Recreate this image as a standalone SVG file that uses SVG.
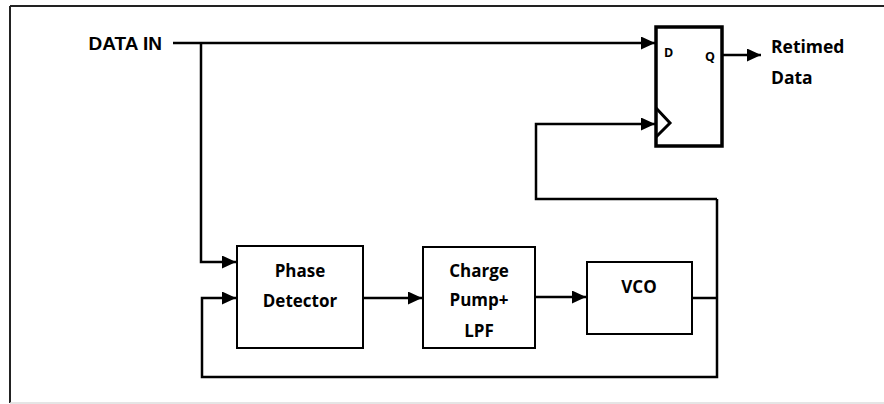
<svg xmlns="http://www.w3.org/2000/svg" width="884" height="404" viewBox="0 0 884 404">
<style>
.box{fill:#fff;stroke:#000;stroke-width:2}
.ff{fill:#fff;stroke:#000;stroke-width:3.5}
.w{fill:none;stroke:#000;stroke-width:2.5}
.t{font-family:"Open Sans","Liberation Sans",sans-serif;font-weight:bold;font-size:17px;fill:#000;text-anchor:middle}
.r{font-family:"Open Sans","Liberation Sans",sans-serif;font-weight:bold;font-size:17.5px;fill:#000;text-anchor:start}
.s{font-family:"Open Sans","Liberation Sans",sans-serif;font-weight:bold;font-size:12.5px;fill:#000}
.a{font-family:"Liberation Sans",Arial,sans-serif;font-weight:bold;font-size:19px;fill:#000;text-anchor:end}
</style>
<defs>
<marker id="ah" markerUnits="userSpaceOnUse" markerWidth="15" markerHeight="13" refX="14" refY="6.5" orient="auto">
<path d="M0,0 L14,6.5 L0,13 z" fill="#000"/>
</marker>
</defs>
<rect width="884" height="404" fill="#fff"/>
<g id="frame">
<line x1="10" y1="6" x2="884" y2="6" stroke="#222" stroke-width="2"/>
<line x1="10" y1="6" x2="10" y2="403" stroke="#222" stroke-width="2"/>
<line x1="10" y1="403" x2="884" y2="403" stroke="#ddd" stroke-width="1.5"/>
</g>
<g id="connectors">
<path class="w" d="M173,43 H655" marker-end="url(#ah)"/>
<path class="w" d="M201,43 V262 H236" marker-end="url(#ah)"/>
<path class="w" d="M722,55 H761" marker-end="url(#ah)"/>
<path class="w" d="M363,298 H422" marker-end="url(#ah)"/>
<path class="w" d="M535,297 H586" marker-end="url(#ah)"/>
<path class="w" d="M692,298 H717"/>
<path class="w" d="M717,199 V377 H202 V298 H236" marker-end="url(#ah)"/>
<path class="w" d="M717,199 H536 V124 H655" marker-end="url(#ah)"/>
</g>
<g id="data_in">
<text class="a" x="162" y="50">DATA IN</text>
</g>
<g id="flipflop">
<rect class="ff" x="656" y="27" width="66" height="119"/>
<path d="M656,108 L670,123 L656,137" fill="none" stroke="#000" stroke-width="3"/>
<text class="s" x="664" y="57">D</text>
<text class="s" x="705" y="61">Q</text>
</g>
<g id="retimed">
<text class="r" x="771" y="53">Retimed</text>
<text class="r" x="771" y="84">Data</text>
</g>
<g id="phase_detector">
<rect class="box" x="237" y="246" width="126" height="102"/>
<text class="t" x="300" y="277">Phase</text>
<text class="t" x="300" y="307">Detector</text>
</g>
<g id="charge_pump">
<rect class="box" x="423" y="247" width="112" height="101"/>
<text class="t" x="479" y="277">Charge</text>
<text class="t" x="479" y="306">Pump+</text>
<text class="t" x="479" y="337">LPF</text>
</g>
<g id="vco">
<rect class="box" x="587" y="262" width="105" height="72"/>
<text class="t" x="639" y="293">VCO</text>
</g>
</svg>
